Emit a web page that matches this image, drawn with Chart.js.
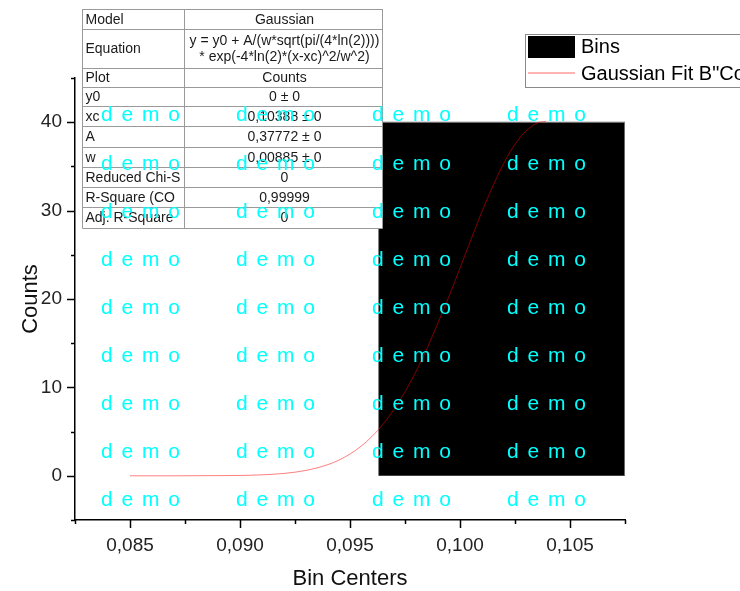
<!DOCTYPE html>
<html>
<head>
<meta charset="utf-8">
<script src="https://cdn.jsdelivr.net/npm/chart.js@4/dist/chart.umd.min.js"></script>
<style>
  html, body { margin: 0; padding: 0; background: #fff; }
  #wrap { width: 740px; height: 591px; position: relative; }
</style>
</head>
<body>
<div id="wrap"><canvas id="chart" width="740" height="591"></canvas></div>
<script>
// histogram bin (edges + count)
const binStarts = [0.0963];
const binEnds = [0.1075];
const binCounts = [40];

// Gaussian fit curve
const fitX = [0.085, 0.087, 0.089, 0.090, 0.091, 0.092, 0.093, 0.094, 0.0945, 0.095, 0.0955, 0.096, 0.0965, 0.097, 0.0975, 0.098, 0.0985, 0.099, 0.0995, 0.100, 0.101, 0.1015, 0.102, 0.1025, 0.103, 0.1035, 0.1039];
const fitY = [0, 0, 0.02, 0.04, 0.11, 0.27, 0.61, 1.27, 1.78, 2.46, 3.34, 4.45, 5.83, 7.5, 9.5, 11.8, 14.4, 17.3, 20.3, 23.5, 29.9, 32.8, 35.4, 37.5, 39.0, 39.9, 40.1];

const xMin = 0.0825, xMax = 0.1075, xStep = 0.0025;
const yMin = -5, yMax = 45, yStep = 5;

const tableRows = [
  ['Model', 'Gaussian'],
  ['Equation', 'y = y0 + A/(w*sqrt(pi/(4*ln(2))))\n* exp(-4*ln(2)*(x-xc)^2/w^2)'],
  ['Plot', 'Counts'],
  ['y0', '0 ± 0'],
  ['xc', '0,10388 ± 0'],
  ['A', '0,37772 ± 0'],
  ['w', '0,00885 ± 0'],
  ['Reduced Chi-S', '0'],
  ['R-Square (CO', '0,99999'],
  ['Adj. R-Square', '0']
];

const FONT = 'Liberation Sans, Arial, sans-serif';

const binPoints = [];
binStarts.forEach((s, i) => {
  binPoints.push({x: s, y: 0}, {x: s, y: binCounts[i]}, {x: binEnds[i], y: binCounts[i]}, {x: binEnds[i], y: 0});
});
const fitPoints = fitX.map((x, i) => ({x: x, y: fitY[i]}));

const isMajorX = v => Math.abs(Math.round(v * 10000) % 50) === 0;
const isMajorY = v => Math.abs(Math.round(v) % 10) === 0;

const overlay = {
  id: 'overlay',
  afterDraw(chart) {
    const ctx = chart.ctx;
    const xs = chart.scales.x, ys = chart.scales.y;
    ctx.save();
    // tick marks
    ctx.strokeStyle = '#000';
    ctx.lineWidth = 1.5;
    xs.ticks.forEach(t => {
      const px = Math.round(xs.getPixelForValue(t.value)) + 0.5;
      const len = isMajorX(t.value) ? 8 : 4;
      ctx.beginPath();
      ctx.moveTo(px, ys.bottom);
      ctx.lineTo(px, ys.bottom + len);
      ctx.stroke();
    });
    ys.ticks.forEach(t => {
      const py = Math.round(ys.getPixelForValue(t.value)) + 0.5;
      const len = isMajorY(t.value) ? 8 : 4;
      ctx.beginPath();
      ctx.moveTo(xs.left, py);
      ctx.lineTo(xs.left - len, py);
      ctx.stroke();
    });

    // parameter table
    const rowLines = [9, 29, 68, 87, 106, 126, 147, 167, 187, 207, 228];
    const tL = 82.5, tR = 382.5, tMid = 184.5;
    ctx.fillStyle = '#fff';
    ctx.fillRect(tL, rowLines[0], tR - tL, rowLines[rowLines.length - 1] - rowLines[0]);
    ctx.strokeStyle = '#9a9a9a';
    ctx.lineWidth = 1;
    rowLines.forEach(y => {
      ctx.beginPath(); ctx.moveTo(tL, y + 0.5); ctx.lineTo(tR, y + 0.5); ctx.stroke();
    });
    [tL, tMid, tR].forEach(x => {
      ctx.beginPath(); ctx.moveTo(x, rowLines[0]); ctx.lineTo(x, rowLines[rowLines.length - 1] + 0.5); ctx.stroke();
    });
    ctx.fillStyle = '#1a1a1a';
    ctx.font = '14px ' + FONT;
    ctx.textBaseline = 'middle';
    tableRows.forEach((r, i) => {
      const cy = (rowLines[i] + rowLines[i + 1]) / 2 + 1;
      ctx.textAlign = 'left';
      ctx.fillText(r[0], tL + 3, cy);
      ctx.textAlign = 'center';
      const lines = r[1].split('\n');
      lines.forEach((ln, j) => {
        ctx.fillText(ln, (tMid + tR) / 2 + 1, cy + (j - (lines.length - 1) / 2) * 16);
      });
    });

    // legend
    ctx.fillStyle = '#fff';
    ctx.fillRect(525.5, 34.5, 240, 53);
    ctx.strokeStyle = '#8a8a8a';
    ctx.strokeRect(525.5, 34.5, 240, 53);
    ctx.fillStyle = '#000';
    ctx.fillRect(528, 36, 47, 22);
    ctx.strokeStyle = 'rgba(255,0,0,0.4)';
    ctx.lineWidth = 1.5;
    ctx.beginPath(); ctx.moveTo(528, 73); ctx.lineTo(575, 73); ctx.stroke();
    ctx.fillStyle = '#000';
    ctx.font = '20px ' + FONT;
    ctx.textAlign = 'left';
    ctx.fillText(chart.data.datasets[1].label, 581, 47);
    ctx.fillText(chart.data.datasets[0].label, 581, 74);

    // watermark
    ctx.fillStyle = '#00ffff';
    ctx.font = '21px ' + FONT;
    ctx.textBaseline = 'alphabetic';
    ctx.letterSpacing = '1.5px';
    const cols = [101, 236, 372, 507];
    const rows = [121, 170, 218, 266, 314, 362, 410, 458, 506];
    rows.forEach(y => cols.forEach(x => ctx.fillText('d e m o', x, y)));
    ctx.restore();
  }
};

new Chart(document.getElementById('chart'), {
  type: 'line',
  data: {
    datasets: [
      {
        label: 'Gaussian Fit B"Counts"',
        data: fitPoints,
        borderColor: 'rgba(255,0,0,0.5)',
        borderWidth: 1,
        pointRadius: 0,
        cubicInterpolationMode: 'monotone',
        fill: false,
        order: 0
      },
      {
        label: 'Bins',
        data: binPoints,
        borderColor: '#7a7a7a',
        borderWidth: 1,
        backgroundColor: '#000',
        pointRadius: 0,
        tension: 0,
        fill: 'origin',
        order: 1
      }
    ]
  },
  options: {
    responsive: false,
    animation: false,
    layout: { padding: { top: 78, right: 115, left: 0, bottom: 0 } },
    plugins: { legend: { display: false }, tooltip: { enabled: false } },
    scales: {
      x: {
        type: 'linear',
        min: xMin, max: xMax,
        afterFit: s => { s.height = 71; },
        grid: { display: true, drawOnChartArea: false, drawTicks: false },
        border: { display: true, color: '#000', width: 1.5 },
        ticks: {
          stepSize: xStep,
          padding: 14,
          color: '#222',
          font: { family: FONT, size: 19 },
          maxRotation: 0,
          autoSkip: false,
          callback: v => isMajorX(v) ? v.toFixed(3).replace('.', ',') : ''
        },
        title: { display: true, text: 'Bin Centers', color: '#111', font: { family: FONT, size: 22 }, padding: { top: 4, bottom: -1 } }
      },
      y: {
        type: 'linear',
        min: yMin, max: yMax,
        afterFit: s => { s.width = 75; },
        grid: { display: true, drawOnChartArea: false, drawTicks: false },
        border: { display: true, color: '#000', width: 1.5 },
        ticks: {
          stepSize: yStep,
          padding: 13,
          color: '#222',
          font: { family: FONT, size: 19 },
          autoSkip: false,
          callback: v => isMajorY(v) && v >= 0 && v <= 40 ? String(v) : ''
        },
        title: { display: true, text: 'Counts', color: '#111', font: { family: FONT, size: 22 }, padding: { top: 18, bottom: 4 } }
      }
    }
  },
  plugins: [overlay]
});
</script>
</body>
</html>
